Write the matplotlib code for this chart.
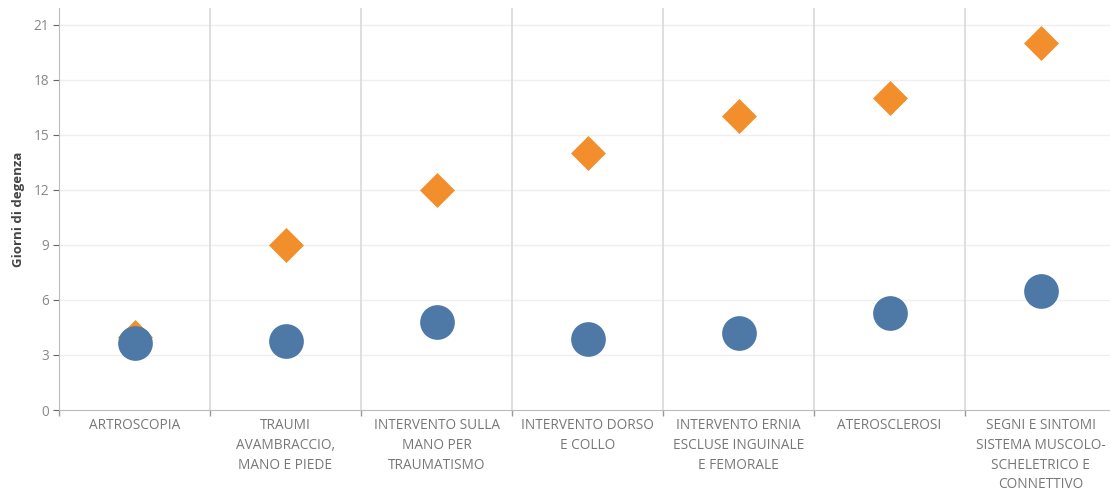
import matplotlib
matplotlib.use("Agg")
import matplotlib.pyplot as plt
import numpy as np

categories = [
    "ARTROSCOPIA",
    "TRAUMI\nAVAMBRACCIO,\nMANO E PIEDE",
    "INTERVENTO SULLA\nMANO PER\nTRAUMATISMO",
    "INTERVENTO DORSO\nE COLLO",
    "INTERVENTO ERNIA\nESCLUSE INGUINALE\nE FEMORALE",
    "ATEROSCLEROSI",
    "SEGNI E SINTOMI\nSISTEMA MUSCOLO-\nSCHELETRICO E\nCONNETTIVO",
]
diamond_values = [4.0, 9.0, 12.0, 14.0, 16.0, 17.0, 20.0]
circle_values = [3.65, 3.75, 4.8, 3.85, 4.2, 5.3, 6.5]
y_ticks = [0, 3, 6, 9, 12, 15, 18, 21]

plt.rcParams['font.family'] = ['Open Sans', 'DejaVu Sans']

W, H = 1110, 490
fig = plt.figure(figsize=(W / 100, H / 100), dpi=100)
left_px, right_px, top_px, bottom_px = 59, 1116, 8, 410
ax = fig.add_axes([left_px / W, 1 - bottom_px / H, (right_px - left_px) / W, (bottom_px - top_px) / H])

x = np.arange(len(categories))
ax.scatter(x, diamond_values, marker='D', s=17.8 ** 2, color='#F28E2B', zorder=3, linewidths=0)
ax.scatter(x, circle_values, marker='o', s=25 ** 2, color='#4E79A7', zorder=4, linewidths=0)

ax.set_xlim(-0.5, len(categories) - 0.5)
ax.set_ylim(0, 21.9)

ax.set_yticks(y_ticks)
ax.set_yticklabels([str(v) for v in y_ticks])
for yv in y_ticks[1:]:
    ax.axhline(yv, color='#efefef', lw=1, zorder=0)
for b in np.arange(0.5, len(categories) - 0.5, 1):
    ax.axvline(b, color='#d9d9d9', lw=1.2, zorder=1)

ax.set_xticks(x)
ax.set_xticklabels(categories, fontsize=9.8, color='#777777', linespacing=1.42)
ax.tick_params(axis='x', which='major', length=0, pad=6)
ax.set_xticks(np.arange(-0.5, len(categories), 1), minor=True)
ax.tick_params(axis='x', which='minor', length=4, color='#999999', width=1)
ax.tick_params(axis='y', length=4, color='#666666', labelcolor='#888888', labelsize=9.8, pad=3)

for s in ['top', 'right']:
    ax.spines[s].set_visible(False)
ax.spines['left'].set_color('#bbbbbb')
ax.spines['bottom'].set_color('#bbbbbb')

ax.set_ylabel('Giorni di degenza', fontsize=9.5, fontweight='bold', color='#444444', labelpad=6)

fig.savefig('out.png', dpi=100)
